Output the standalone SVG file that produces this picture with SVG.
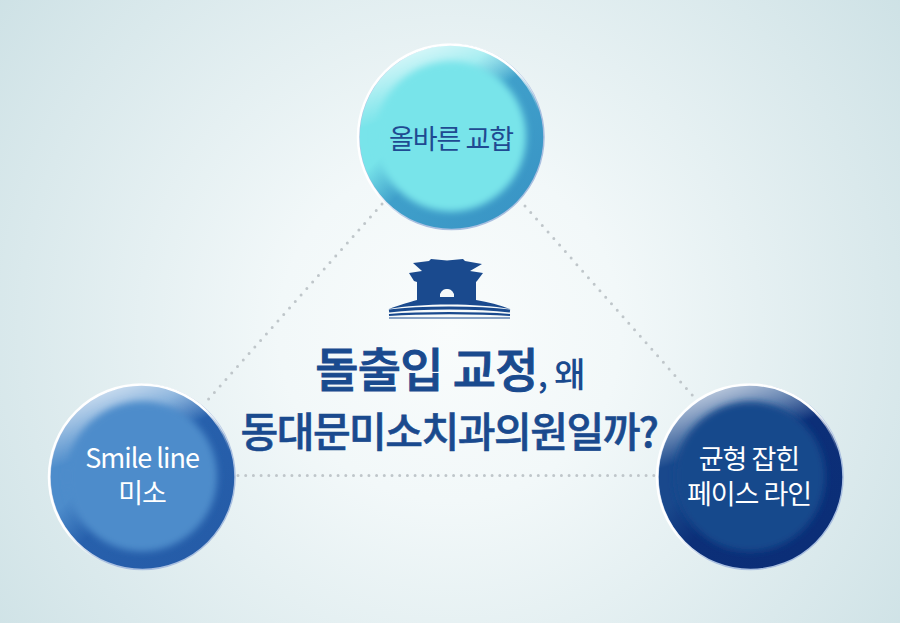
<svg xmlns="http://www.w3.org/2000/svg" width="900" height="623" viewBox="0 0 900 623">
<defs>
<radialGradient id="bg" gradientUnits="userSpaceOnUse" cx="450" cy="330" r="570">
<stop offset="0" stop-color="#f9fcfc"/><stop offset="0.3" stop-color="#f2f8f9"/><stop offset="1" stop-color="#cde1e5"/>
</radialGradient>
<linearGradient id="rim" x1="0.15" y1="0.1" x2="0.85" y2="0.9"><stop offset="0" stop-color="#fff"/><stop offset="0.45" stop-color="#fff"/><stop offset="0.7" stop-color="#fff" stop-opacity="0"/></linearGradient>
<linearGradient id="sheen" x1="0.38" y1="0" x2="0.48" y2="0.3"><stop offset="0" stop-color="#fff" stop-opacity="0.7"/><stop offset="1" stop-color="#fff" stop-opacity="0"/></linearGradient>
<linearGradient id="g1" x1="0.15" y1="0.15" x2="0.85" y2="0.85"><stop offset="0.3" stop-color="#78e4ea"/><stop offset="0.52" stop-color="#3f9fca"/><stop offset="1" stop-color="#3a96c6"/></linearGradient>
<linearGradient id="g2" x1="0.15" y1="0.15" x2="0.85" y2="0.85"><stop offset="0.3" stop-color="#4d8ccb"/><stop offset="0.52" stop-color="#2760ac"/><stop offset="1" stop-color="#255ca8"/></linearGradient>
<linearGradient id="g3" x1="0.15" y1="0.15" x2="0.85" y2="0.85"><stop offset="0.3" stop-color="#19488c"/><stop offset="0.52" stop-color="#0c2f78"/><stop offset="1" stop-color="#0b2e77"/></linearGradient>
<filter id="soft" x="-20%" y="-20%" width="140%" height="140%"><feGaussianBlur stdDeviation="3.500"/></filter>
<style>
.c{fill:none;stroke:#bfc6ca;stroke-width:3;stroke-linecap:round;stroke-dasharray:0 8.700}
.e{stroke-dasharray:0 7.700}
text{font-family:"Noto Sans CJK KR","Noto Sans",sans-serif;text-anchor:middle}
.t{font-size:27px;letter-spacing:-1px}
.h{fill:#1a4a8e}
.w{fill:#fff}
.o{fill:none;stroke:#a9bfe0;stroke-width:1.500}
</style>
</defs>
<rect width="900" height="623" fill="url(#bg)"/>
<g id="connectors">
<path class="c" d="M382 204L206 402"/>
<path class="c" d="M525 206L694 397"/>
<path class="c e" d="M238 475.500H654"/>
</g>
<g id="node-top">
<circle cx="451.500" cy="137" r="92.500" fill="url(#g1)"/>
<circle cx="451.500" cy="137" r="92.500" fill="url(#sheen)"/>
<circle class="o" cx="451.500" cy="137" r="92.500"/>
<circle cx="450.500" cy="137" r="92.500" fill="none" stroke="url(#rim)" stroke-width="2.500"/>
<circle cx="451" cy="136.500" r="75" fill="#78e4ea" filter="url(#soft)"/>
<text class="t" x="451" y="149" fill="#1f4a92">올바른 교합</text>
</g>
<g id="node-left">
<circle cx="142.500" cy="477" r="92.500" fill="url(#g2)"/>
<circle cx="142.500" cy="477" r="92.500" fill="url(#sheen)"/>
<circle class="o" cx="142.500" cy="477" r="92.500"/>
<circle cx="141.500" cy="477" r="92.500" fill="none" stroke="url(#rim)" stroke-width="2.500"/>
<circle cx="142" cy="476.500" r="75" fill="#4d8ccb" filter="url(#soft)"/>
<text class="t w"><tspan x="142" y="468">Smile line</tspan><tspan x="142" y="503">미소</tspan></text>
</g>
<g id="node-right">
<circle cx="750.500" cy="477" r="92.500" fill="url(#g3)"/>
<circle cx="750.500" cy="477" r="92.500" fill="url(#sheen)"/>
<circle class="o" cx="750.500" cy="477" r="92.500"/>
<circle cx="749.500" cy="477" r="92.500" fill="none" stroke="url(#rim)" stroke-width="2.500"/>
<circle cx="750" cy="476.500" r="75" fill="#19488c" filter="url(#soft)"/>
<text class="t w"><tspan x="749" y="469">균형 잡힌</tspan><tspan x="749" y="504">페이스 라인</tspan></text>
</g>
<g id="node-center">
<path fill="#1a4a8e" d="M429 261L431 259L447 260.500L463 259L465 261L482 264L470 271L483 273L477 281L476 282L476 300C488 302 500 305 510 309C478 303 420 303 389 309C399 305 410 302 417 300L417 282L414 281L409 273L422 271L413 263Z"/>
<path fill="#f3f8f9" d="M440 297L440 294C442 290 444 289 447 289C450 289 452 290 454 294L454 297Z"/>
<path fill="none" stroke="#1a4a8e" stroke-width="3" d="M389 311C420 307 478 307 510 311"/>
<path fill="none" stroke="#1a4a8e" stroke-width="2.200" d="M389 315C420 312.500 478 312.500 510 315"/>
<path fill="none" stroke="#1a4a8e" stroke-width="1.200" d="M389 318H510"/>
<text class="h" x="450" y="387" style="letter-spacing:-0.700px" font-weight="500"><tspan font-size="47" stroke="#1a4a8e" stroke-width="1">돌출입 교정</tspan><tspan font-size="34">, 왜</tspan></text>
<text class="h" x="449" y="447" font-size="41" font-weight="500" stroke="#1a4a8e" stroke-width="0.600" style="letter-spacing:-1.500px">동대문미소치과의원일까?</text>
</g>
</svg>
